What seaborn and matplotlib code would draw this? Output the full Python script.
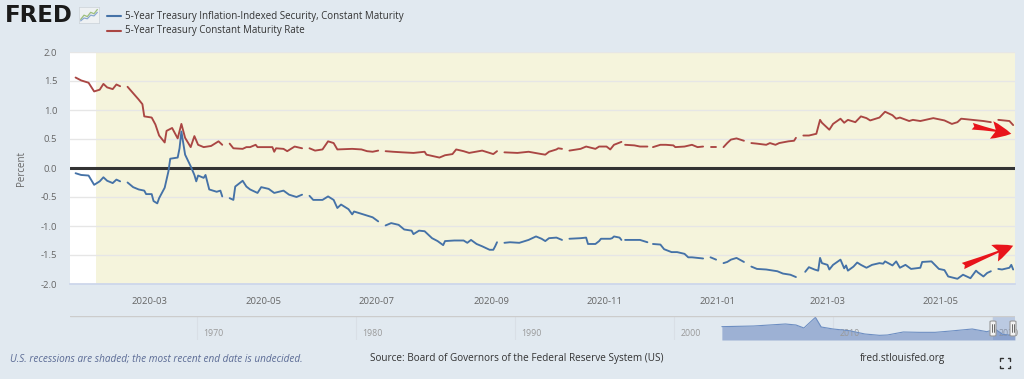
import numpy as np
import pandas as pd
import matplotlib
matplotlib.use("Agg")
import matplotlib.pyplot as plt
import matplotlib.dates as mdates
from matplotlib.lines import Line2D
from matplotlib.patches import FancyBboxPatch
import seaborn as sns

# 5-Year TIPS (DFII5); None = missing value (holiday)
tips_dates = [
    "2020-01-21", "2020-01-24", "2020-01-28", "2020-01-31", "2020-02-03", "2020-02-05", "2020-02-07",
    "2020-02-10", "2020-02-12", "2020-02-14", "2020-02-17", "2020-02-18", "2020-02-21", "2020-02-24",
    "2020-02-27", "2020-02-28", "2020-03-02", "2020-03-03", "2020-03-05", "2020-03-06", "2020-03-09",
    "2020-03-11", "2020-03-12", "2020-03-16", "2020-03-17", "2020-03-18", "2020-03-20", "2020-03-23",
    "2020-03-25", "2020-03-26", "2020-03-27", "2020-03-30", "2020-03-31", "2020-04-02", "2020-04-06",
    "2020-04-08", "2020-04-09", "2020-04-10", "2020-04-13", "2020-04-15", "2020-04-16", "2020-04-20",
    "2020-04-22", "2020-04-24", "2020-04-28", "2020-04-30", "2020-05-04", "2020-05-07", "2020-05-12",
    "2020-05-15", "2020-05-19", "2020-05-22", "2020-05-25", "2020-05-26", "2020-05-28", "2020-06-02",
    "2020-06-05", "2020-06-08", "2020-06-10", "2020-06-12", "2020-06-16", "2020-06-18", "2020-06-19",
    "2020-06-23", "2020-06-29", "2020-07-02", "2020-07-03", "2020-07-06", "2020-07-09", "2020-07-13",
    "2020-07-16", "2020-07-20", "2020-07-21", "2020-07-24", "2020-07-27", "2020-07-31", "2020-08-03",
    "2020-08-06", "2020-08-07", "2020-08-12", "2020-08-17", "2020-08-19", "2020-08-21", "2020-08-24",
    "2020-08-27", "2020-08-31", "2020-09-02", "2020-09-03", "2020-09-04", "2020-09-07", "2020-09-08",
    "2020-09-11", "2020-09-16", "2020-09-21", "2020-09-25", "2020-09-28", "2020-09-30", "2020-10-02",
    "2020-10-06", "2020-10-09", "2020-10-12", "2020-10-13", "2020-10-19", "2020-10-22", "2020-10-23",
    "2020-10-27", "2020-10-29", "2020-10-30", "2020-11-04", "2020-11-05", "2020-11-06", "2020-11-09",
    "2020-11-10", "2020-11-11", "2020-11-12", "2020-11-17", "2020-11-20", "2020-11-24", "2020-11-26",
    "2020-11-27", "2020-12-01", "2020-12-03", "2020-12-07", "2020-12-10", "2020-12-14", "2020-12-16",
    "2020-12-18", "2020-12-21", "2020-12-24", "2020-12-25", "2020-12-28", "2020-12-31", "2021-01-01",
    "2021-01-04", "2021-01-06", "2021-01-08", "2021-01-11", "2021-01-15", "2021-01-18", "2021-01-19",
    "2021-01-22", "2021-01-27", "2021-02-02", "2021-02-05", "2021-02-09", "2021-02-12", "2021-02-15",
    "2021-02-17", "2021-02-19", "2021-02-22", "2021-02-24", "2021-02-25", "2021-02-26", "2021-03-01",
    "2021-03-02", "2021-03-04", "2021-03-08", "2021-03-10", "2021-03-11", "2021-03-12", "2021-03-15",
    "2021-03-17", "2021-03-19", "2021-03-22", "2021-03-25", "2021-03-29", "2021-03-31", "2021-04-01",
    "2021-04-05", "2021-04-07", "2021-04-09", "2021-04-12", "2021-04-15", "2021-04-20", "2021-04-21",
    "2021-04-26", "2021-04-30", "2021-05-03", "2021-05-05", "2021-05-10", "2021-05-13", "2021-05-17",
    "2021-05-20", "2021-05-21", "2021-05-24", "2021-05-26", "2021-05-28", "2021-05-31", "2021-06-01",
    "2021-06-03", "2021-06-07", "2021-06-08", "2021-06-09",
]
tips_values = [
    -0.09, -0.12, -0.13, -0.29, -0.23, -0.16, -0.22,
    -0.26, -0.20, -0.23, None, -0.25, -0.33, -0.37,
    -0.39, -0.45, -0.45, -0.57, -0.61, -0.52, -0.34,
    -0.06, 0.16, 0.18, 0.34, 0.63, 0.23, 0.03,
    -0.12, -0.23, -0.13, -0.17, -0.12, -0.37, -0.41,
    -0.39, -0.49, None, -0.52, -0.55, -0.32, -0.22,
    -0.32, -0.37, -0.43, -0.33, -0.36, -0.43, -0.39,
    -0.46, -0.50, -0.46, None, -0.48, -0.55, -0.55,
    -0.49, -0.55, -0.69, -0.63, -0.71, -0.80, -0.75,
    -0.79, -0.85, -0.92, None, -0.99, -0.95, -0.98,
    -1.06, -1.08, -1.14, -1.08, -1.09, -1.21, -1.26,
    -1.33, -1.26, -1.25, -1.25, -1.29, -1.24, -1.31,
    -1.35, -1.41, -1.41, -1.35, -1.28, None, -1.29,
    -1.28, -1.29, -1.24, -1.18, -1.22, -1.26, -1.21,
    -1.20, -1.24, None, -1.22, -1.21, -1.20, -1.31,
    -1.31, -1.26, -1.22, -1.22, -1.21, -1.18, -1.20,
    -1.24, None, -1.24, -1.24, -1.24, -1.28, None,
    -1.31, -1.32, -1.40, -1.45, -1.45, -1.48, -1.54,
    -1.54, -1.55, -1.56, None, -1.54, -1.58, None,
    -1.64, -1.62, -1.58, -1.55, -1.62, None, -1.70,
    -1.74, -1.75, -1.78, -1.82, -1.84, -1.88, None,
    -1.79, -1.71, -1.75, -1.77, -1.55, -1.64, -1.67,
    -1.75, -1.67, -1.58, -1.73, -1.68, -1.77, -1.70,
    -1.63, -1.67, -1.72, -1.67, -1.64, -1.65, -1.61,
    -1.68, -1.61, -1.72, -1.67, -1.74, -1.72, -1.62,
    -1.61, -1.74, -1.76, -1.87, -1.91, -1.84, -1.90,
    -1.77, -1.80, -1.87, -1.81, -1.78, None, -1.74,
    -1.75, -1.72, -1.67, -1.75,
]

# 5-Year Treasury constant maturity (DGS5)
dgs5_dates = [
    "2020-01-21", "2020-01-24", "2020-01-28", "2020-01-31", "2020-02-03", "2020-02-05", "2020-02-07",
    "2020-02-10", "2020-02-12", "2020-02-14", "2020-02-17", "2020-02-18", "2020-02-21", "2020-02-24",
    "2020-02-26", "2020-02-27", "2020-03-02", "2020-03-04", "2020-03-06", "2020-03-09", "2020-03-10",
    "2020-03-13", "2020-03-16", "2020-03-18", "2020-03-20", "2020-03-23", "2020-03-25", "2020-03-27",
    "2020-03-30", "2020-04-03", "2020-04-07", "2020-04-09", "2020-04-10", "2020-04-13", "2020-04-15",
    "2020-04-20", "2020-04-22", "2020-04-24", "2020-04-27", "2020-04-28", "2020-05-06", "2020-05-07",
    "2020-05-08", "2020-05-12", "2020-05-14", "2020-05-18", "2020-05-22", "2020-05-25", "2020-05-26",
    "2020-05-29", "2020-06-02", "2020-06-05", "2020-06-08", "2020-06-10", "2020-06-18", "2020-06-23",
    "2020-06-26", "2020-06-29", "2020-07-02", "2020-07-03", "2020-07-06", "2020-07-10", "2020-07-15",
    "2020-07-21", "2020-07-27", "2020-07-28", "2020-08-04", "2020-08-07", "2020-08-11", "2020-08-13",
    "2020-08-17", "2020-08-20", "2020-08-27", "2020-08-31", "2020-09-02", "2020-09-04", "2020-09-07",
    "2020-09-08", "2020-09-15", "2020-09-21", "2020-09-28", "2020-09-30", "2020-10-02", "2020-10-06",
    "2020-10-07", "2020-10-09", "2020-10-12", "2020-10-13", "2020-10-19", "2020-10-22", "2020-10-27",
    "2020-10-29", "2020-11-02", "2020-11-04", "2020-11-06", "2020-11-10", "2020-11-11", "2020-11-12",
    "2020-11-17", "2020-11-20", "2020-11-24", "2020-11-26", "2020-11-27", "2020-12-01", "2020-12-04",
    "2020-12-08", "2020-12-09", "2020-12-14", "2020-12-18", "2020-12-21", "2020-12-24", "2020-12-25",
    "2020-12-28", "2020-12-31", "2021-01-01", "2021-01-04", "2021-01-06", "2021-01-08", "2021-01-11",
    "2021-01-15", "2021-01-18", "2021-01-19", "2021-01-22", "2021-01-27", "2021-01-29", "2021-02-01",
    "2021-02-03", "2021-02-08", "2021-02-11", "2021-02-12", "2021-02-15", "2021-02-16", "2021-02-19",
    "2021-02-23", "2021-02-25", "2021-02-26", "2021-03-02", "2021-03-04", "2021-03-08", "2021-03-10",
    "2021-03-12", "2021-03-16", "2021-03-19", "2021-03-22", "2021-03-24", "2021-03-29", "2021-04-01",
    "2021-04-05", "2021-04-07", "2021-04-09", "2021-04-14", "2021-04-16", "2021-04-20", "2021-04-27",
    "2021-05-03", "2021-05-07", "2021-05-10", "2021-05-12", "2021-05-18", "2021-05-24", "2021-05-28",
    "2021-05-31", "2021-06-01", "2021-06-07", "2021-06-09",
]
dgs5_values = [
    1.56, 1.51, 1.47, 1.32, 1.35, 1.45, 1.39,
    1.36, 1.44, 1.41, None, 1.40, 1.29, 1.18,
    1.10, 0.89, 0.87, 0.75, 0.56, 0.44, 0.64,
    0.69, 0.51, 0.76, 0.52, 0.36, 0.55, 0.40,
    0.36, 0.38, 0.46, 0.40, None, 0.42, 0.34,
    0.33, 0.36, 0.36, 0.40, 0.36, 0.36, 0.28,
    0.34, 0.33, 0.29, 0.37, 0.34, None, 0.34,
    0.30, 0.32, 0.46, 0.43, 0.32, 0.33, 0.32,
    0.29, 0.28, 0.30, None, 0.29, 0.28, 0.27,
    0.26, 0.28, 0.23, 0.18, 0.22, 0.24, 0.32,
    0.29, 0.26, 0.30, 0.26, 0.24, 0.29, None,
    0.27, 0.26, 0.28, 0.24, 0.23, 0.28, 0.32,
    0.34, 0.33, None, 0.30, 0.33, 0.37, 0.33,
    0.37, 0.37, 0.32, 0.40, 0.45, None, 0.40,
    0.39, 0.37, 0.37, None, 0.36, 0.40, 0.40,
    0.39, 0.36, 0.37, 0.40, 0.36, 0.37, None,
    0.36, 0.36, None, 0.36, 0.43, 0.49, 0.51,
    0.47, None, 0.43, 0.42, 0.40, 0.43, 0.40,
    0.43, 0.46, 0.47, 0.52, None, 0.56, 0.56,
    0.59, 0.83, 0.78, 0.66, 0.76, 0.85, 0.78,
    0.83, 0.79, 0.89, 0.86, 0.82, 0.87, 0.97,
    0.91, 0.85, 0.87, 0.81, 0.83, 0.81, 0.86,
    0.82, 0.76, 0.79, 0.85, 0.83, 0.81, 0.79,
    None, 0.83, 0.81, 0.74,
]

# navigator (full history of the first series, rough shape)
nav_dates = ["2003-01-02", "2004-01-01", "2005-01-01", "2006-01-01", "2007-01-01", "2007-09-01",
             "2008-03-01", "2008-11-20", "2009-04-01", "2010-01-01", "2011-01-01", "2012-01-01",
             "2012-12-01", "2013-06-01", "2014-06-01", "2015-06-01", "2016-06-01", "2017-06-01",
             "2018-10-01", "2019-09-01", "2020-03-18", "2020-09-01", "2021-06-09"]
nav_values = [1.0, 1.1, 1.2, 1.5, 1.8, 1.5, 0.6, 3.8, 0.9, 0.3, -0.2, -1.2,
              -1.6, -1.5, -0.6, -0.7, -0.7, -0.3, 0.3, -0.5, 0.2, -1.3, -1.7]

recession_start = "2020-02-01"
x_start, x_end = "2020-01-18", "2021-06-10"
arrow_tails = [("2021-05-18", 0.72), ("2021-05-13", -1.69)]
arrow_heads = [("2021-06-08", 0.59), ("2021-06-09", -1.34)]

BG = "#e1e9f0"
BLUE = "#4572a7"
RED = "#aa4643"


def to_frame(dates, values):
    df = pd.DataFrame({"date": pd.to_datetime(dates), "value": pd.array(values, dtype="Float64")})
    df["value"] = df["value"].astype(float)
    df["seg"] = df["value"].isna().cumsum()
    return df.dropna()


tips = to_frame(tips_dates, tips_values)
dgs5 = to_frame(dgs5_dates, dgs5_values)

sns.set_theme(style="white")
plt.rcParams["font.family"] = ["Open Sans", "DejaVu Sans"]

W, H = 1024, 379
fig = plt.figure(figsize=(W / 100, H / 100), dpi=100, facecolor=BG)


def fx(px):
    return px / W


def fy(py):
    return 1 - py / H


ax = fig.add_axes([fx(70), fy(284), fx(945), 232 / H])
ax.set_facecolor("white")
ax.axvspan(pd.Timestamp(recession_start), pd.Timestamp(x_end), color="#f5f4dc", lw=0, zorder=0)

sns.lineplot(data=dgs5, x="date", y="value", units="seg", estimator=None,
             color=RED, lw=1.35, legend=False, ax=ax, zorder=4)
sns.lineplot(data=tips, x="date", y="value", units="seg", estimator=None,
             color=BLUE, lw=1.35, legend=False, ax=ax, zorder=4)
ax.axhline(0, color="#333333", lw=2.2, zorder=3)

ax.set_xlim(pd.Timestamp(x_start), pd.Timestamp(x_end))
ax.set_ylim(-2, 2)
ax.set_yticks(np.arange(-2, 2.01, 0.5))
ax.yaxis.set_major_formatter(matplotlib.ticker.FormatStrFormatter("%.1f"))
ax.xaxis.set_major_locator(mdates.MonthLocator(bymonth=[1, 3, 5, 7, 9, 11]))
ax.xaxis.set_major_formatter(mdates.DateFormatter("%Y-%m"))
ax.grid(axis="y", color="#e6e6e6", lw=1)
ax.set_axisbelow(True)
for s in ["top", "right", "left"]:
    ax.spines[s].set_visible(False)
ax.spines["bottom"].set_color("#ccd6eb")
ax.tick_params(axis="y", length=0, pad=9, labelsize=6.8, labelcolor="#666666")
ax.tick_params(axis="x", length=4, color="#ccd6eb", pad=5, labelsize=6.8, labelcolor="#666666")
ax.set_xlabel("")
ax.set_ylabel("Percent", fontsize=7, color="#666666", labelpad=10)

for (t_d, t_v), (h_d, h_v) in zip(arrow_tails, arrow_heads):
    ax.annotate("", xy=(pd.Timestamp(h_d), h_v), xytext=(pd.Timestamp(t_d), t_v),
                arrowprops=dict(arrowstyle="fancy,head_length=0.9,head_width=0.8,tail_width=0.3",
                                color="#e8141b", lw=0, shrinkA=0, shrinkB=0, mutation_scale=16),
                zorder=6)

# navigator
nav = fig.add_axes([fx(70), fy(340), fx(945), 24 / H])
nav.set_facecolor("none")
nav_df = pd.DataFrame({"date": pd.to_datetime(nav_dates), "value": nav_values})
nav.set_ylim(-3.0, 4.2)
nav.fill_between(nav_df["date"], nav_df["value"], -3.0, color="#9db1d4", lw=0)
sns.lineplot(data=nav_df, x="date", y="value", color="#6d8ec2", lw=0.8, ax=nav, legend=False)
nav.set_xlim(pd.Timestamp("1962-01-02"), pd.Timestamp(x_end))
for yr in range(1970, 2030, 10):
    d = pd.Timestamp(f"{yr}-01-01")
    nav.axvline(d, color="#d9dfe6", lw=0.8, zorder=0)
    nav.text(d + pd.Timedelta(days=150), -1.2, str(yr), fontsize=6.3, color="#999999",
             va="center", ha="left", zorder=1)
nav.axvspan(pd.Timestamp(x_start), pd.Timestamp(x_end), color=(102 / 255, 133 / 255, 194 / 255, 0.3), lw=0)
for s in nav.spines.values():
    s.set_visible(False)
nav.axhline(4.2, color="#cccccc", lw=1)
nav.set_xticks([])
nav.set_yticks([])
nav.set_xlabel("")
nav.set_ylabel("")

for hx in [993, 1013]:
    fig.add_artist(FancyBboxPatch((fx(hx - 3), fy(336)), fx(6), 15 / H,
                                  boxstyle="round,pad=0,rounding_size=0.002",
                                  fc="#f2f2f2", ec="#999999", lw=0.8, transform=fig.transFigure))
    for off in (-1, 1):
        fig.add_artist(Line2D([fx(hx + off), fx(hx + off)], [fy(324), fy(332)],
                              color="#333333", lw=0.5, transform=fig.transFigure))

# header: logo + legend
fig.text(fx(5), fy(15), "FRED", fontsize=16.5, fontweight="heavy", color="#1a1a1a",
         va="center", ha="left", family=["DejaVu Sans"])
logo = fig.add_axes([fx(79), fy(23), fx(20), 16 / H])
logo.set_facecolor("#eef1f3")
for s in logo.spines.values():
    s.set_color("#d0d6dc")
    s.set_linewidth(0.6)
logo.set_xticks([])
logo.set_yticks([])
logo_x = [0, 1, 2, 3, 4, 5]
logo.plot(logo_x, [1, 2.2, 1.8, 3.0, 2.6, 3.8], color="#9ebf7c", lw=0.9)
logo.plot(logo_x, [0.6, 1.4, 1.2, 2.2, 2.0, 3.0], color="#8aa8d0", lw=0.9)
logo.set_xlim(-0.5, 5.5)
logo.set_ylim(0, 4.5)

for row, (label, col) in enumerate([
        ("5-Year Treasury Inflation-Indexed Security, Constant Maturity", BLUE),
        ("5-Year Treasury Constant Maturity Rate", RED)]):
    yy = 16 + row * 15
    fig.add_artist(Line2D([fx(107), fx(121)], [fy(yy), fy(yy)], color=col, lw=1.5,
                          transform=fig.transFigure))
    fig.text(fx(125), fy(yy), label, fontsize=7.0, color="#333333", va="center", ha="left")

# footer
fig.text(fx(10), fy(359), "U.S. recessions are shaded; the most recent end date is undecided.",
         fontsize=7.2, style="italic", color="#5b6b95", va="center", ha="left")
fig.text(fx(370), fy(359), "Source: Board of Governors of the Federal Reserve System (US)",
         fontsize=7.2, color="#333333", va="center", ha="left")
fig.text(fx(860), fy(359), "fred.stlouisfed.org", fontsize=7.2, color="#333333",
         va="center", ha="left")

# expand icon
cx, cy, r, k = 1005, 363, 5, 2.5
for sx in (-1, 1):
    for sy in (-1, 1):
        x0, y0 = cx + sx * r, cy + sy * r
        fig.add_artist(Line2D([fx(x0 - sx * k), fx(x0), fx(x0)], [fy(y0), fy(y0), fy(y0 - sy * k)],
                              color="#333333", lw=1, transform=fig.transFigure))

fig.savefig("out.png", dpi=100, facecolor=BG)
